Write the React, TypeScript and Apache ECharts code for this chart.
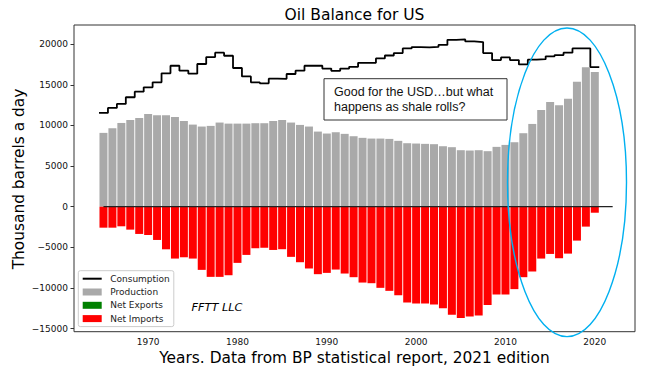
import React, { useEffect, useRef } from 'react';
import * as echarts from 'echarts';

const years = [
  1965, 1966, 1967, 1968, 1969, 1970, 1971, 1972, 1973, 1974,
  1975, 1976, 1977, 1978, 1979, 1980, 1981, 1982, 1983, 1984,
  1985, 1986, 1987, 1988, 1989, 1990, 1991, 1992, 1993, 1994,
  1995, 1996, 1997, 1998, 1999, 2000, 2001, 2002, 2003, 2004,
  2005, 2006, 2007, 2008, 2009, 2010, 2011, 2012, 2013, 2014,
  2015, 2016, 2017, 2018, 2019, 2020,
];

const production = [
  9080, 9650, 10300, 10670, 10920, 11410, 11250, 11250, 11040, 10550,
  10100, 9860, 9940, 10350, 10220, 10220, 10220, 10270, 10270, 10550,
  10670, 10350, 10060, 9860, 9240, 9000, 9160, 8960, 8670, 8470,
  8380, 8380, 8340, 8100, 7810, 7770, 7730, 7690, 7440, 7320,
  6950, 6910, 6950, 6830, 7360, 7600, 7930, 9040, 10180, 11900,
  12880, 12470, 13290, 15380, 17140, 16560,
];

const consumption = [
  11530, 12150, 12640, 13460, 14150, 14680, 15300, 16400, 17340, 16730,
  16360, 17550, 18400, 18940, 18570, 17060, 16030, 15300, 15170, 15750,
  15730, 16320, 16730, 17340, 17340, 16990, 16710, 16990, 17200, 17700,
  17700, 18240, 18600, 18900, 19470, 19630, 19600, 19650, 19900, 20530,
  20570, 20330, 20250, 18900, 18030, 18360, 18030, 17500, 18080, 18150,
  18500, 18650, 18940, 19470, 19470, 17180,
];

const netImports = [
  -2580, -2580, -2410, -2820, -3350, -3480, -4090, -5240, -6380, -6220,
  -6380, -7770, -8630, -8630, -8430, -6910, -5930, -5110, -5050, -5320,
  -5230, -6170, -6830, -7600, -8300, -8140, -7730, -8220, -8670, -9330,
  -9410, -9980, -10350, -10880, -11780, -11900, -11900, -12040, -12500, -13290,
  -13700, -13500, -13370, -12100, -10800, -10800, -10140, -8670, -7970, -6380,
  -5810, -6340, -5770, -4170, -2450, -740,
];

const netExports: number[][] = [];

const yTicks = [-15000, -10000, -5000, 0, 5000, 10000, 15000, 20000];
const xTicks = [1970, 1980, 1990, 2000, 2010, 2020];
const zeroLineYears = [1965, 2022];

const FONT = 'DejaVu Sans';

export default function App() {
  const ref = useRef<HTMLDivElement>(null);

  useEffect(() => {
    document.body.style.margin = '0';
    const chart = echarts.init(ref.current!, null, { renderer: 'svg' });

    const consumptionStep: number[][] = [];
    years.forEach((y, i) => {
      consumptionStep.push([y - 0.5, consumption[i]]);
      consumptionStep.push([y + 0.5, consumption[i]]);
    });

    const option: any = {
      animation: false,
      backgroundColor: '#fff',
      grid: {
        left: 74,
        right: 13,
        top: 25,
        bottom: 40.3,
        show: true,
        borderColor: '#333',
        borderWidth: 1,
        backgroundColor: 'transparent',
      },
      xAxis: {
        type: 'value',
        min: 1961.7,
        max: 2024.5,
        splitLine: { show: false },
        axisLine: { show: false },
        axisTick: { show: true, length: 3.5, lineStyle: { color: '#333' }, customValues: xTicks },
        axisLabel: {
          customValues: xTicks,
          margin: 6,
          fontFamily: FONT,
          fontSize: 9,
          color: '#111',
          formatter: (v: number) => String(v),
        },
      },
      yAxis: {
        type: 'value',
        min: -15375,
        max: 22350,
        splitLine: { show: false },
        axisLine: { show: false },
        axisTick: { show: true, length: 3.5, lineStyle: { color: '#333' }, customValues: yTicks },
        axisLabel: {
          customValues: yTicks,
          margin: 6,
          fontFamily: FONT,
          fontSize: 9,
          color: '#111',
          formatter: (v: number) => (v < 0 ? '\u2212' + Math.abs(v) : String(v)),
        },
      },
      legend: {
        orient: 'vertical',
        left: 78.3,
        top: 270.7,
        padding: [3.5, 4, 3.5, 3.4],
        itemWidth: 19,
        itemHeight: 7,
        itemGap: 4.3,
        backgroundColor: 'rgba(255,255,255,0.85)',
        borderColor: '#ccc',
        borderWidth: 1,
        borderRadius: 2,
        textStyle: { fontFamily: FONT, fontSize: 9, color: '#222', lineHeight: 9, padding: [0, 0, 0, 3.5] },
        data: [
          { name: 'Consumption', itemStyle: { opacity: 0 } },
          { name: 'Production', icon: 'rect' },
          { name: 'Net Exports', icon: 'rect' },
          { name: 'Net Imports', icon: 'rect' },
        ],
      },
      series: [
        {
          name: 'Production',
          type: 'bar',
          barWidth: 8,
          barGap: '-100%',
          itemStyle: { color: '#a9a9a9' },
          data: years.map((y, i) => [y, production[i]]),
          z: 2,
        },
        {
          name: 'Net Exports',
          type: 'bar',
          barWidth: 8,
          barGap: '-100%',
          itemStyle: { color: '#008000' },
          data: netExports,
          z: 2,
        },
        {
          name: 'Net Imports',
          type: 'bar',
          barWidth: 8,
          barGap: '-100%',
          itemStyle: { color: '#ff0000' },
          data: years.map((y, i) => [y, netImports[i]]),
          z: 2,
        },
        {
          name: 'Consumption',
          type: 'line',
          symbol: 'none',
          showSymbol: false,
          lineStyle: { color: '#000', width: 1.8 },
          itemStyle: { color: '#000' },
          data: consumptionStep,
          z: 4,
        },
        {
          name: 'zero',
          type: 'line',
          symbol: 'none',
          showSymbol: false,
          silent: true,
          lineStyle: { color: '#222', width: 1.3 },
          data: zeroLineYears.map((y) => [y, 0]),
          z: 5,
        },
      ],
      graphic: [
        {
          type: 'text',
          z: 100,
          x: 354.5,
          y: 15,
          style: {
            text: 'Oil Balance for US',
            fontFamily: FONT,
            fontSize: 15.5,
            fill: '#000',
            textAlign: 'center',
            textVerticalAlign: 'middle',
          },
        },
        {
          type: 'text',
          z: 100,
          x: 18.5,
          y: 179,
          rotation: Math.PI / 2,
          style: {
            text: 'Thousand barrels a day',
            fontFamily: FONT,
            fontSize: 15.4,
            fill: '#000',
            textAlign: 'center',
            textVerticalAlign: 'middle',
          },
        },
        {
          type: 'text',
          z: 100,
          x: 354.5,
          y: 358.3,
          style: {
            text: 'Years. Data from BP statistical report, 2021 edition',
            fontFamily: FONT,
            fontSize: 15.4,
            fill: '#000',
            textAlign: 'center',
            textVerticalAlign: 'middle',
          },
        },
        {
          type: 'text',
          z: 100,
          x: 191.5,
          y: 307.7,
          style: {
            text: 'FFTT LLC',
            fontFamily: FONT,
            fontStyle: 'italic',
            fontSize: 11.3,
            fill: '#000',
            textAlign: 'left',
            textVerticalAlign: 'middle',
          },
        },
        {
          type: 'rect',
          z: 100,
          shape: { x: 324, y: 78.7, width: 183, height: 41.3 },
          style: { fill: '#fff', stroke: '#333', lineWidth: 1 },
        },
        {
          type: 'text',
          z: 101,
          x: 334,
          y: 91.7,
          style: {
            text: 'Good for the USD\u2026but what',
            fontFamily: 'Liberation Sans',
            fontSize: 12.5,
            fill: '#111',
            textAlign: 'left',
            textVerticalAlign: 'middle',
          },
        },
        {
          type: 'text',
          z: 101,
          x: 334,
          y: 107.3,
          style: {
            text: 'happens as shale rolls?',
            fontFamily: 'Liberation Sans',
            fontSize: 12.5,
            fill: '#111',
            textAlign: 'left',
            textVerticalAlign: 'middle',
          },
        },
        {
          type: 'ellipse',
          z: 100,
          shape: { cx: 567, cy: 182.3, rx: 59.5, ry: 154.3 },
          style: { fill: 'none', stroke: '#00b0f0', lineWidth: 1.4 },
        },
      ],
    };

    chart.setOption(option);
    return () => chart.dispose();
  }, []);

  return <div ref={ref} style={{ width: 648, height: 372 }} />;
}
